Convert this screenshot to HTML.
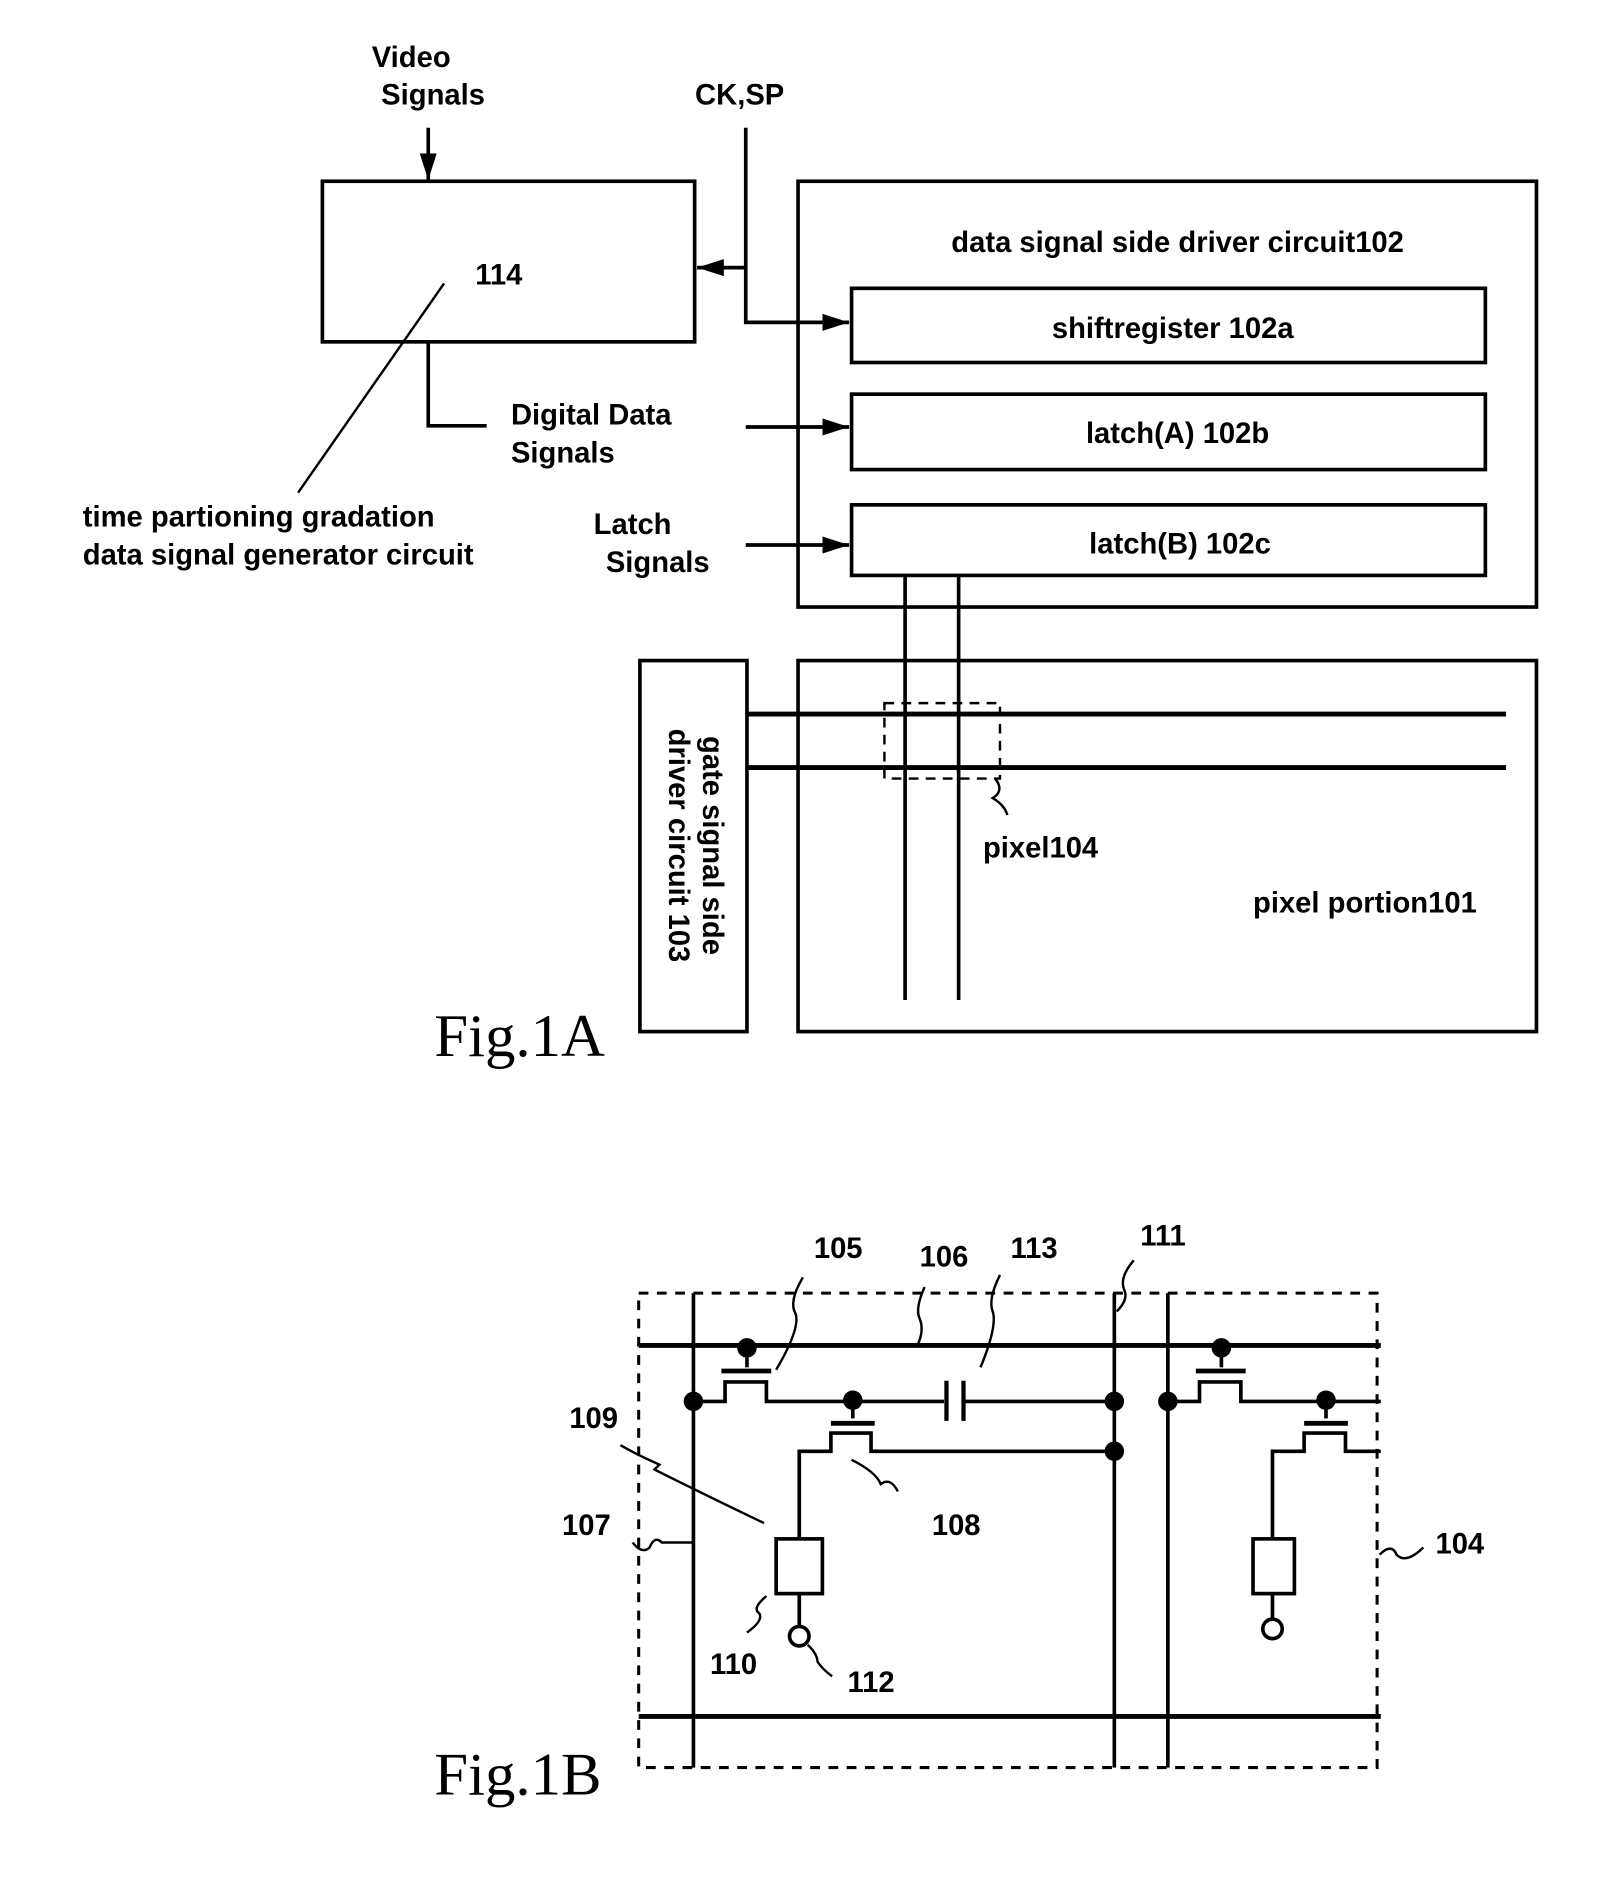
<!DOCTYPE html>
<html><head><meta charset="utf-8"><style>html,body{margin:0;padding:0;background:#fff}svg{display:block}</style></head><body>
<svg width="1618" height="1902" viewBox="0 0 1330 1563.5" xmlns="http://www.w3.org/2000/svg" font-family="Liberation Sans, sans-serif" font-size="24" fill="#000">
<defs><marker id="a" markerWidth="10" markerHeight="10" refX="9" refY="5" orient="auto" markerUnits="userSpaceOnUse" viewBox="0 0 10 10"><path d="M0,0 L10,5 L0,10 z" fill="#000"/></marker>
<marker id="b" markerWidth="22" markerHeight="14" refX="22" refY="7" orient="auto" markerUnits="userSpaceOnUse"><path d="M0,0 L22,7 L0,14 z" fill="#000"/></marker></defs>
<g stroke="#000" stroke-width="3" fill="none">
<!-- Fig 1A -->
<line x1="352" y1="105" x2="352" y2="148" marker-end="url(#b)"/>
<rect x="265" y="149" width="306" height="132"/>
<line x1="365" y1="233" x2="245" y2="405" stroke-width="2"/>
<polyline points="613,105 613,265 698,265" marker-end="url(#b)"/>
<line x1="613" y1="220" x2="573" y2="220" marker-end="url(#b)"/>
<rect x="656" y="149" width="607" height="350"/>
<rect x="700" y="237" width="521" height="61"/>
<rect x="700" y="324" width="521" height="62"/>
<rect x="700" y="415" width="521" height="58"/>
<polyline points="352,281 352,350 400,350"/>
<line x1="613" y1="351" x2="698" y2="351" marker-end="url(#b)"/>
<line x1="613" y1="448" x2="698" y2="448" marker-end="url(#b)"/>
<line x1="744" y1="473" x2="744" y2="822"/>
<line x1="788" y1="473" x2="788" y2="822"/>
<rect x="526" y="543" width="88" height="305"/>
<rect x="656" y="543" width="607" height="305"/>
<line x1="614" y1="587" x2="1238" y2="587" stroke-width="4"/>
<line x1="614" y1="631" x2="1238" y2="631" stroke-width="4"/>
<rect x="727" y="578" width="95" height="62" stroke-width="2" stroke-dasharray="8,6"/>
<path d="M818,640 q8,10 -2,16 q10,6 12,14" stroke-width="2"/>
<!-- Fig 1B -->
<rect x="525" y="1063" width="607" height="390" stroke-width="2.5" stroke-dasharray="8,7"/>
<line x1="525" y1="1106" x2="1135" y2="1106" stroke-width="4"/>
<line x1="525" y1="1411" x2="1135" y2="1411" stroke-width="4"/>
<line x1="570" y1="1063" x2="570" y2="1453"/>
<line x1="916" y1="1063" x2="916" y2="1453"/>
<line x1="960" y1="1063" x2="960" y2="1453"/>
<!-- left pixel -->
<line x1="614" y1="1108" x2="614" y2="1124"/>
<line x1="593" y1="1127" x2="634" y2="1127" stroke-width="4"/>
<polyline points="570,1152 596,1152 596,1136 630,1136 630,1152 776,1152"/>
<line x1="778" y1="1135" x2="778" y2="1168" stroke-width="3.5"/>
<line x1="792" y1="1135" x2="792" y2="1168" stroke-width="3.5"/>
<line x1="792" y1="1152" x2="916" y2="1152"/>
<line x1="701" y1="1151" x2="701" y2="1166"/>
<line x1="683" y1="1170" x2="719" y2="1170" stroke-width="4"/>
<polyline points="657,1265 657,1193 683,1193 683,1178 716,1178 716,1193 916,1193"/>
<rect x="638" y="1265" width="38" height="45"/>
<line x1="657" y1="1310" x2="657" y2="1337"/>
<circle cx="657" cy="1345" r="8"/>
<!-- right pixel -->
<line x1="1004" y1="1108" x2="1004" y2="1124"/>
<line x1="983" y1="1127" x2="1024" y2="1127" stroke-width="4"/>
<polyline points="960,1152 986,1152 986,1136 1020,1136 1020,1152 1135,1152"/>
<line x1="1090" y1="1151" x2="1090" y2="1166"/>
<line x1="1072" y1="1170" x2="1108" y2="1170" stroke-width="4"/>
<polyline points="1046,1265 1046,1193 1072,1193 1072,1178 1106,1178 1106,1193 1135,1193"/>
<rect x="1030" y="1265" width="34" height="45"/>
<line x1="1046" y1="1310" x2="1046" y2="1331"/>
<circle cx="1046" cy="1339" r="8"/>
<!-- leaders -->
<g stroke-width="2">
<path d="M660,1050 q-12,20 -6,30 q4,12 -16,46"/>
<path d="M760,1058 q-8,18 -4,26 q4,10 -2,22"/>
<path d="M822,1048 q-10,20 -6,30 q4,12 -10,46"/>
<path d="M932,1036 q-12,14 -8,24 q4,8 -6,18"/>
<path d="M510,1188 q14,8 32,16 l-4,4 q40,20 90,44"/>
<path d="M520,1268 q8,10 14,4 q4,-10 10,-4 l26,0"/>
<path d="M700,1200 q20,10 24,20 q8,-6 14,6"/>
<path d="M630,1312 q-12,10 -6,14 q4,6 -10,16"/>
<path d="M664,1352 q8,8 8,14 q4,6 12,12"/>
<path d="M1134,1278 q10,-10 14,0 q8,8 22,-6"/>
</g>
</g>
<g fill="#000">
<circle cx="570" cy="1152" r="8"/><circle cx="916" cy="1152" r="8"/><circle cx="916" cy="1193" r="8"/>
<circle cx="960" cy="1152" r="8"/><circle cx="614" cy="1108" r="8"/><circle cx="701" cy="1151" r="8"/>
<circle cx="1004" cy="1108" r="8"/><circle cx="1090" cy="1151" r="8"/>
</g>
<g font-weight="bold">
<text x="338" y="55" text-anchor="middle">Video</text>
<text x="356" y="86" text-anchor="middle">Signals</text>
<text x="608" y="86" text-anchor="middle">CK,SP</text>
<text x="410" y="234" text-anchor="middle">114</text>
<text x="968" y="207" text-anchor="middle">data signal side driver circuit102</text>
<text x="964" y="278" text-anchor="middle">shiftregister 102a</text>
<text x="968" y="364" text-anchor="middle">latch(A) 102b</text>
<text x="970" y="455" text-anchor="middle">latch(B) 102c</text>
<text x="420" y="349">Digital Data</text>
<text x="420" y="380">Signals</text>
<text x="488" y="439">Latch</text>
<text x="498" y="470">Signals</text>
<text x="68" y="433">time partioning gradation</text>
<text x="68" y="464">data signal generator circuit</text>
<text x="808" y="705">pixel104</text>
<text x="1030" y="750">pixel portion101</text>
<g transform="translate(570,695) rotate(90)"><text x="0" y="-8" text-anchor="middle">gate signal side</text><text x="0" y="20" text-anchor="middle">driver circuit 103</text></g>
<text x="689" y="1034" text-anchor="middle">105</text>
<text x="776" y="1041" text-anchor="middle">106</text>
<text x="850" y="1034" text-anchor="middle">113</text>
<text x="956" y="1024" text-anchor="middle">111</text>
<text x="488" y="1174" text-anchor="middle">109</text>
<text x="482" y="1262" text-anchor="middle">107</text>
<text x="786" y="1262" text-anchor="middle">108</text>
<text x="1200" y="1277" text-anchor="middle">104</text>
<text x="603" y="1376" text-anchor="middle">110</text>
<text x="716" y="1391" text-anchor="middle">112</text>
</g>
<text x="357" y="868" font-family="Liberation Serif, serif" font-size="50">Fig.1A</text>
<text x="357" y="1475" font-family="Liberation Serif, serif" font-size="50">Fig.1B</text>
</svg>
</body></html>
